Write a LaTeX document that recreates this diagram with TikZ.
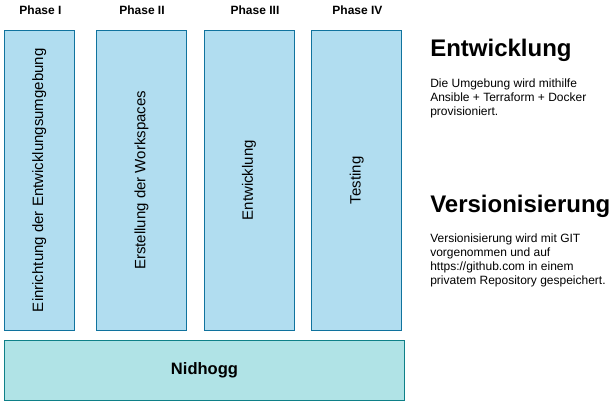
\documentclass[tikz,border=0pt]{standalone}
\usepackage{fontspec}
\setmainfont{Liberation Sans}
\definecolor{phasefill}{HTML}{B1DDF0}
\definecolor{phaseline}{HTML}{10739E}
\definecolor{basefill}{HTML}{B0E3E6}
\definecolor{baseline}{HTML}{0E8088}
\tikzset{
  phasebox/.style={draw=phaseline,fill=phasefill,line width=0.75pt,rotate=90,
    minimum width=225pt,minimum height=#1,inner sep=0pt,
    font=\fontsize{11.25}{13}\selectfont},
  phasetitle/.style={font=\bfseries\fontsize{9}{11}\selectfont,inner sep=0pt},
  heading/.style={font=\bfseries\fontsize{18}{21}\selectfont,inner sep=0pt,anchor=base west},
  bodytext/.style={font=\fontsize{9}{10.5}\selectfont,inner sep=0pt,anchor=base west,align=left}
}
\begin{document}
\begin{tikzpicture}[x=0.75pt,y=-0.75pt]
  \useasboundingbox (0,0) rectangle (615,401);

  \node (p1) [phasebox=52.5pt] at (39.25,180.25) {Einrichtung der Entwicklungsumgebung};
  \node (p2) [phasebox=67.5pt] at (141.5,180.25) {Erstellung der Workspaces};
  \node (p3) [phasebox=67.5pt] at (249,180.25) {Entwicklung};
  \node (p4) [phasebox=67.5pt] at (356.75,180.25) {Testing};

  \node (t1) [phasetitle] at (40.5,10) {Phase I};
  \node (t2) [phasetitle] at (142,10) {Phase II};
  \node (t3) [phasetitle] at (255,10) {Phase III};
  \node (t4) [phasetitle] at (357.5,10) {Phase IV};

  \node (base) [draw=baseline,fill=basefill,line width=0.75pt,minimum width=300pt,
    minimum height=45pt,inner sep=0pt,font=\bfseries\fontsize{12.4}{15}\selectfont]
    at (204.5,370) {Nidhogg};

  % base of a multi-line node sits on its last line
  \node (h1) [heading] at (430,56.5) {Entwicklung};
  \node (d1) [bodytext] at (430,115.5) {Die Umgebung wird mithilfe\\Ansible + Terraform + Docker\\provisioniert.};

  \node (h2) [heading] at (430,212) {Versionisierung};
  \node (d2) [bodytext] at (430,284.5) {Versionisierung wird mit GIT\\vorgenommen und auf\\https://github.com in einem\\privatem Repository gespeichert.};
\end{tikzpicture}
\end{document}
